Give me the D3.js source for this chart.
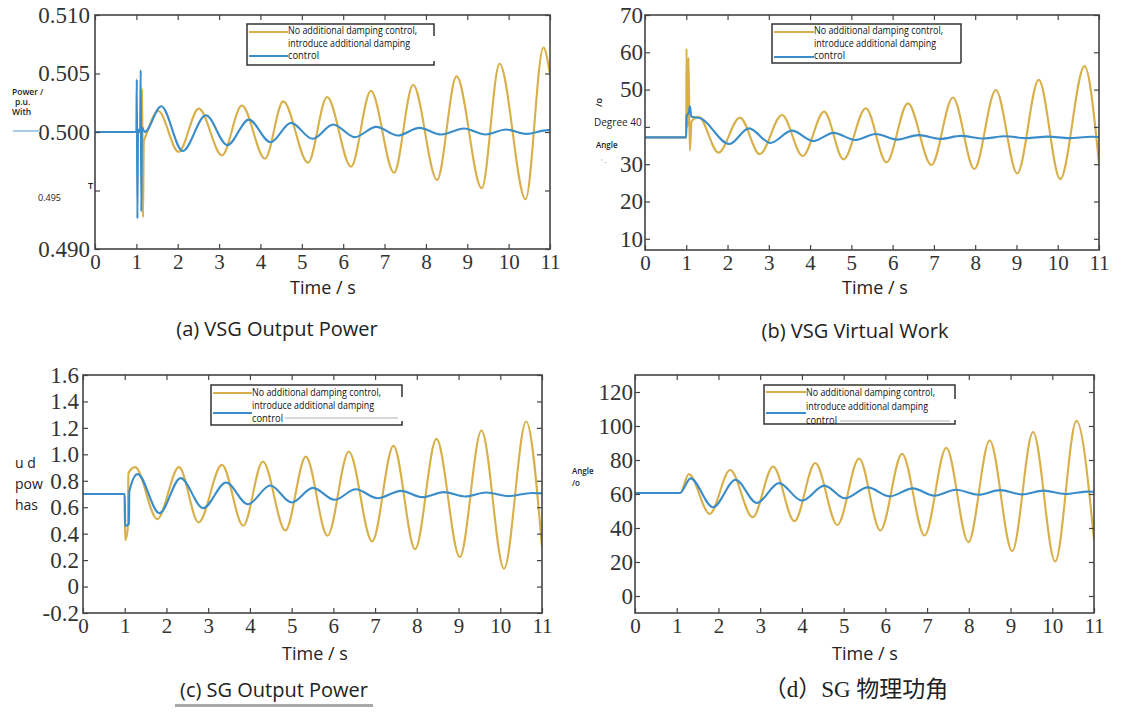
<!DOCTYPE html>
<html>
<head>
<meta charset="utf-8">
<script src="https://cdn.jsdelivr.net/npm/d3@7"></script>
<style>
html,body{margin:0;padding:0;background:#fff;}
svg{display:block;}
</style>
</head>
<body>
<svg id="chart" width="1122" height="713"></svg>
<script>
// ---------------- DATA ----------------
const timeTicks = [0,1,2,3,4,5,6,7,8,9,10,11];
const legendLabels = ["No additional damping control,", "introduce additional damping", "control"];
const captions = ["(a) VSG Output Power", "(b) VSG Virtual Work", "(c) SG Output Power", "（d）SG 物理功角"];
const xLabel = "Time / s";

const aTicks = [0.490, 0.495, 0.500, 0.505, 0.510];
const bTicks = [10, 20, 30, 40, 50, 60, 70];
const cTicks = [-0.2, 0, 0.2, 0.4, 0.6, 0.8, 1.0, 1.2, 1.4, 1.6];
const dTicks = [0, 20, 40, 60, 80, 100, 120];

// (a) VSG output power, p.u.
const aNoDamp = [[0,0.5],[1.12,0.5],[1.14,0.5037],[1.16,0.4927],[1.18,0.4992],[1.22,0.4996],[1.53,0.5018],[2.02,0.4983],[2.51,0.5020],[3.07,0.4980],[3.55,0.50226],[4.11,0.49772],[4.55,0.50262],[5.15,0.49738],[5.61,0.50299],[6.19,0.49704],[6.67,0.50353],[7.23,0.49652],[7.69,0.50404],[8.27,0.4959],[8.74,0.50475],[9.35,0.49519],[9.78,0.50583],[10.41,0.49426],[10.84,0.50722],[11,0.50489]];
const aDamp = [[0,0.5],[1.0,0.5],[1.01,0.5045],[1.025,0.4926],[1.04,0.5002],[1.09,0.5],[1.105,0.5053],[1.12,0.4932],[1.135,0.5004],[1.2,0.5],[1.6,0.5022],[2.12,0.49837],[2.68,0.50143],[3.2,0.49888],[3.72,0.50106],[4.24,0.49913],[4.74,0.50078],[5.26,0.49942],[5.76,0.50064],[6.28,0.49956],[6.8,0.50044],[7.32,0.4997],[7.84,0.50035],[8.37,0.49979],[8.92,0.5003],[9.44,0.49979],[9.94,0.50021],[10.43,0.49984],[10.95,0.50016],[11,0.50016]];

// (b) VSG virtual power angle, degree
const bNoDamp = [[0,37.2],[1.0,37.2],[1.005,61],[1.03,40],[1.055,58.5],[1.085,33.6],[1.13,41.5],[1.3,42.7],[1.78,33.1],[2.3,42.5],[2.78,32.7],[3.32,43.2],[3.82,32.2],[4.34,44.1],[4.81,31.3],[5.35,45.0],[5.85,30.5],[6.37,46.3],[6.94,29.8],[7.46,47.9],[7.98,28.7],[8.5,49.9],[9.02,27.5],[9.54,52.6],[10.06,26.0],[10.65,56.3],[11,30.2]];
const bDamp = [[0,37.2],[1.0,37.2],[1.005,43],[1.05,43.5],[1.09,45.5],[1.12,42.8],[1.35,42.3],[2.04,35.4],[2.52,39.6],[3.04,35.7],[3.56,39.0],[4.08,36.2],[4.57,38.4],[5.09,36.5],[5.59,38.1],[6.11,36.6],[6.63,37.8],[7.16,36.8],[7.66,37.6],[8.2,36.9],[8.72,37.5],[9.24,37.0],[9.76,37.4],[10.28,37.0],[10.8,37.35],[11,37.3]];

// (c) SG output power, p.u.
const cNoDamp = [[0,0.7],[1.0,0.7],[1.01,0.35],[1.07,0.43],[1.09,0.86],[1.25,0.903],[1.78,0.51],[2.3,0.903],[2.77,0.485],[3.33,0.92],[3.84,0.46],[4.31,0.946],[4.85,0.424],[5.34,0.983],[5.86,0.384],[6.37,1.021],[6.93,0.341],[7.44,1.064],[7.96,0.283],[8.47,1.117],[9.03,0.223],[9.55,1.18],[10.09,0.135],[10.62,1.248],[11,0.3]];
const cDamp = [[0,0.7],[1.0,0.7],[1.005,0.46],[1.1,0.47],[1.11,0.72],[1.31,0.85],[1.83,0.555],[2.34,0.82],[2.88,0.593],[3.43,0.787],[3.95,0.623],[4.49,0.764],[5.0,0.636],[5.51,0.746],[6.03,0.656],[6.54,0.736],[7.06,0.668],[7.62,0.724],[8.13,0.676],[8.65,0.714],[9.16,0.681],[9.66,0.711],[10.19,0.684],[10.75,0.708],[11,0.705]];

// (d) SG physical power angle, degree
const dNoDamp = [[0,60.6],[1.08,60.6],[1.29,71.7],[1.79,48.3],[2.28,74.1],[2.82,46.3],[3.31,76.2],[3.82,44.0],[4.32,78.2],[4.85,41.8],[5.37,80.9],[5.88,38.5],[6.4,83.6],[6.94,35.6],[7.46,87.2],[7.99,31.7],[8.5,91.5],[9.04,26.4],[9.54,96.5],[10.07,20.3],[10.58,103],[11,33]];
const dDamp = [[0,60.6],[1.08,60.6],[1.33,69.2],[1.87,52.2],[2.41,68.4],[2.92,54.7],[3.45,66.4],[4.0,56.1],[4.54,64.9],[5.03,57.5],[5.58,63.9],[6.1,58.6],[6.66,63.3],[7.17,59.0],[7.69,62.5],[8.23,59.6],[8.75,62.3],[9.28,59.8],[9.79,62.0],[10.31,60.0],[10.85,61.4],[11,61.3]];

// ---------------- STYLE ----------------
const YELLOW = "#d8b04a";
const BLUE = "#3a8dc9";
const AXIS = "#444";
const SERIF = "'Liberation Serif','Times New Roman',serif";
const SANS = "'Open Sans','Noto Sans',sans-serif";
const legendWidths = [129, 122, 31];

const svg = d3.select("#chart");

function panel(cfg){
  const x = d3.scaleLinear().domain([0, 11]).range([cfg.left, cfg.right]);
  const y = d3.scaleLinear().domain(cfg.yDomain).range([cfg.bottom, cfg.top]);
  const clipId = "clip-" + cfg.id;
  svg.append("clipPath").attr("id", clipId).append("rect")
    .attr("x", cfg.left).attr("y", cfg.top)
    .attr("width", cfg.right - cfg.left).attr("height", cfg.bottom - cfg.top);

  const line = d3.line().x(d => x(d[0])).y(d => y(d[1])).curve(d3.curveMonotoneX);
  const g = svg.append("g").attr("clip-path", `url(#${clipId})`);
  g.append("path").datum(cfg.noDamp).attr("d", line)
    .attr("fill", "none").attr("stroke", YELLOW).attr("stroke-width", 2.1).attr("stroke-linejoin", "round");
  g.append("path").datum(cfg.damp).attr("d", line)
    .attr("fill", "none").attr("stroke", BLUE).attr("stroke-width", 2.1).attr("stroke-linejoin", "round");

  const styleAxis = sel => {
    sel.select(".domain").remove();
    sel.selectAll(".tick line").attr("stroke", AXIS).attr("stroke-width", 1.2);
  };
  // bottom
  svg.append("g").attr("transform", `translate(0,${cfg.bottom})`)
    .call(d3.axisBottom(x).tickValues(timeTicks).tickSizeInner(-5).tickSizeOuter(0).tickPadding(5).tickFormat(d3.format("d")))
    .call(styleAxis)
    .call(s => s.selectAll(".tick text").attr("font-family", SERIF).attr("font-size", 21).attr("fill", "#333"));
  // top
  svg.append("g").attr("transform", `translate(0,${cfg.top})`)
    .call(d3.axisTop(x).tickValues(timeTicks).tickSizeInner(-5).tickSizeOuter(0).tickFormat(""))
    .call(styleAxis);
  // left
  svg.append("g").attr("transform", `translate(${cfg.left},0)`)
    .call(d3.axisLeft(y).tickValues(cfg.yTicks).tickSizeInner(-5).tickSizeOuter(0).tickPadding(cfg.ypad || 2).tickFormat(cfg.fmt))
    .call(styleAxis)
    .call(s => s.selectAll(".tick text").attr("font-family", SERIF).attr("font-size", 23).attr("fill", "#333")
      .style("display", d => cfg.hide.includes(d) ? "none" : null));
  // right
  svg.append("g").attr("transform", `translate(${cfg.right},0)`)
    .call(d3.axisRight(y).tickValues(cfg.yTicks).tickSizeInner(-5).tickSizeOuter(0).tickFormat(""))
    .call(styleAxis);
  // frame
  svg.append("rect").attr("x", cfg.left).attr("y", cfg.top)
    .attr("width", cfg.right - cfg.left).attr("height", cfg.bottom - cfg.top)
    .attr("fill", "none").attr("stroke", AXIS).attr("stroke-width", 1.6);

  // x label
  svg.append("text").attr("x", cfg.xl[0]).attr("y", cfg.xl[1]).attr("text-anchor", "middle")
    .attr("dominant-baseline", "central").attr("font-family", SANS).attr("font-size", 18).attr("fill", "#222").text(xLabel);

  // legend
  const L = cfg.legend;
  const lg = svg.append("g");
  lg.append("rect").attr("x", L.x0).attr("y", L.y0).attr("width", L.x1 - L.x0).attr("height", L.y1 - L.y0)
    .attr("fill", "#fff").attr("stroke", "none");
  const edge = L.rightLen;
  lg.append("path")
    .attr("d", `M${L.x1},${L.y0 + edge} L${L.x1},${L.y0} L${L.x0},${L.y0} L${L.x0},${L.y1} L${L.x1},${L.y1}` + (edge < (L.y1 - L.y0) ? ` L${L.x1},${L.y1 - 4}` : ` L${L.x1},${L.y0 + edge}`))
    .attr("fill", "none").attr("stroke", "#333").attr("stroke-width", 1.5);
  lg.append("line").attr("x1", L.x0 + 2).attr("x2", L.tx).attr("y1", L.ly[0]).attr("y2", L.ly[0])
    .attr("stroke", YELLOW).attr("stroke-width", 2.2);
  lg.append("line").attr("x1", L.x0 + 2).attr("x2", L.tx).attr("y1", L.ly[1]).attr("y2", L.ly[1])
    .attr("stroke", BLUE).attr("stroke-width", 2.2);
  if (L.smudge) {
    lg.append("line").attr("x1", L.smudge[0]).attr("x2", L.smudge[1]).attr("y1", L.smudge[2]).attr("y2", L.smudge[2])
      .attr("stroke", "#cfcfcf").attr("stroke-width", 2).attr("opacity", 0.8);
  }
  legendLabels.forEach((t, i) => {
    lg.append("text").attr("x", L.tx).attr("y", L.ty[i]).attr("dominant-baseline", "central")
      .attr("font-family", SANS).attr("font-size", 10).attr("fill", "#111")
      .attr("textLength", legendWidths[i]).attr("lengthAdjust", "spacingAndGlyphs").text(t);
  });

  // caption
  svg.append("text").attr("x", cfg.cap[0]).attr("y", cfg.cap[1]).attr("text-anchor", "middle")
    .attr("dominant-baseline", "central").attr("font-family", cfg.capFont).attr("font-size", cfg.capSize)
    .attr("fill", "#222").text(cfg.caption);
  return {x, y};
}

const fmtA = d3.format(".3f");
const fmtC = d => d === 0 ? "0" : d3.format(".1f")(d).replace("−", "-");

panel({id:"a", left:95, right:550, top:15, bottom:249, yDomain:[0.490,0.510], yTicks:aTicks, fmt:fmtA, hide:[0.495], ypad:5,
  noDamp:aNoDamp, damp:aDamp, xl:[323,287],
  legend:{x0:247, y0:24, x1:434, y1:65, tx:288, ty:[30,43,55], ly:[32,56], rightLen:12},
  cap:[277,328], caption:captions[0], capFont:SANS, capSize:20});

panel({id:"b", left:645, right:1099, top:15, bottom:250, yDomain:[7,70], yTicks:bTicks, fmt:d3.format("d"), hide:[40],
  noDamp:bNoDamp, damp:bDamp, xl:[875,287],
  legend:{x0:772, y0:24, x1:961, y1:63, tx:814, ty:[30,43,55], ly:[32,57], rightLen:39},
  cap:[855,330], caption:captions[1], capFont:SANS, capSize:20});

panel({id:"c", left:83, right:542, top:375, bottom:613, yDomain:[-0.2,1.6], yTicks:cTicks, fmt:fmtC, hide:[], ypad:4,
  noDamp:cNoDamp, damp:cDamp, xl:[315,653],
  legend:{x0:211, y0:385, x1:402, y1:425, tx:252, ty:[392,405,418], ly:[393,413], rightLen:12, smudge:[285,398,418]},
  cap:[274,689], caption:captions[2], capFont:SANS, capSize:20});

panel({id:"d", left:635, right:1094, top:375, bottom:613, yDomain:[-10,130], yTicks:dTicks, fmt:d3.format("d"), hide:[],
  noDamp:dNoDamp, damp:dDamp, xl:[865,653],
  legend:{x0:764, y0:385, x1:955, y1:424, tx:806, ty:[392,406,420], ly:[392,413], rightLen:14, smudge:[840,950,421]},
  cap:[856,689], caption:captions[3], capFont:"'Liberation Serif','Noto Sans CJK SC',serif", capSize:23});

// underline under caption (c)
svg.append("rect").attr("x", 175).attr("y", 704).attr("width", 198).attr("height", 3).attr("fill", "#a8a8a8");

// stray translated axis-label fragments
const small = (x, y, t, size, opts = {}) => svg.append("text").attr("x", x).attr("y", y)
  .attr("dominant-baseline", "central").attr("font-family", SANS).attr("font-size", size)
  .attr("fill", opts.fill || "#222").attr("font-weight", opts.weight || 600)
  .attr("transform", opts.rot ? `rotate(${opts.rot},${x},${y})` : null).text(t);

// (a)
svg.append("line").attr("x1", 13).attr("x2", 40).attr("y1", 131).attr("y2", 131).attr("stroke", "#a8cde8").attr("stroke-width", 2);
small(12, 91, "Power /", 8.5);
small(15, 101, "p.u.", 8.5);
small(12, 111, "With", 8.5);
small(38, 197, "0.495", 9, {weight: 400});
small(88, 185, "T", 9);
// (b)
small(598, 107, "/o", 9, {rot: -90});
small(594, 122, "Degree 40", 10, {weight: 500});
small(596, 144, "Angle", 8);
small(601, 161, "' -", 7, {fill: "#999", weight: 400});
// (c)
small(15, 462, "u d", 14, {weight: 400});
small(15, 483, "pow", 14, {weight: 400});
small(15, 504, "has", 14, {weight: 400});
// (d)
small(572, 470, "Angle", 8);
small(572, 482, "/o", 8);
</script>
</body>
</html>
